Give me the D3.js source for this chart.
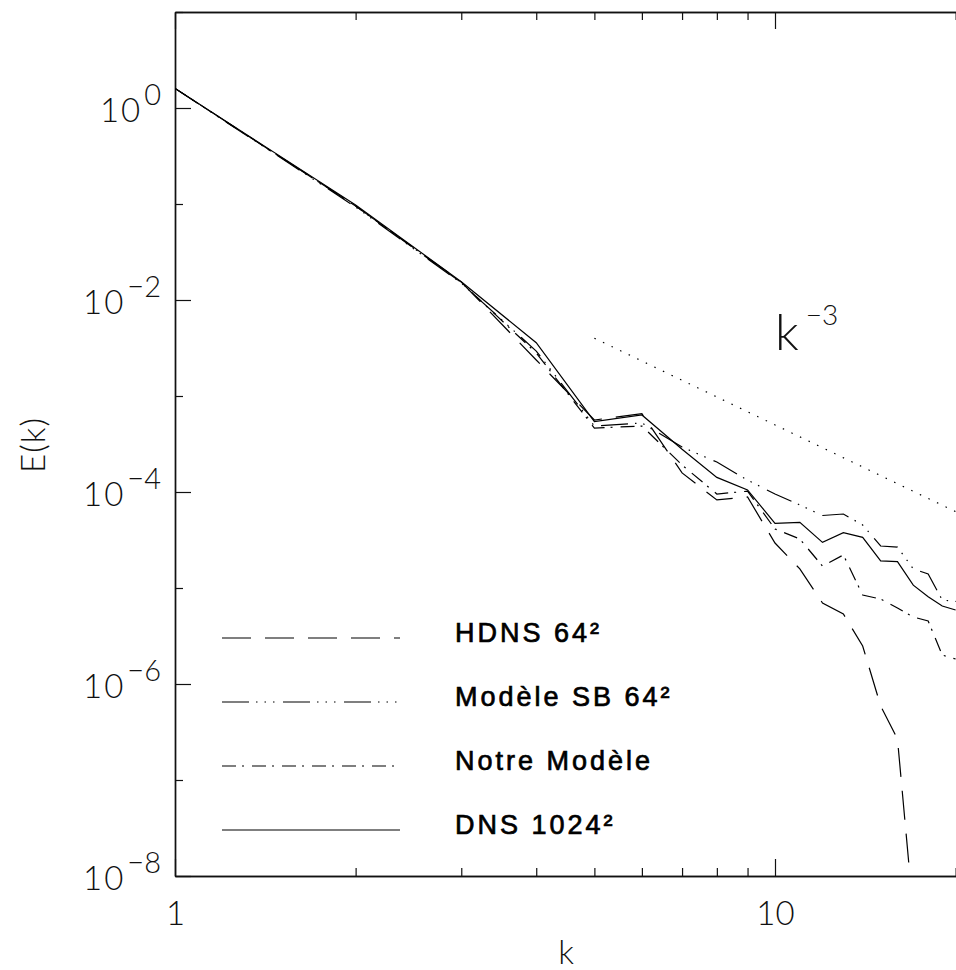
<!DOCTYPE html>
<html>
<head>
<meta charset="utf-8">
<script src="https://cdn.jsdelivr.net/npm/d3@7"></script>
<style>
  html, body { margin: 0; padding: 0; background: #fff; }
  svg { display: block; }
</style>
</head>
<body>
<svg id="chart" width="956" height="970"></svg>
<script>
// Energy spectra E(k) for the 2D runs, shell-averaged at integer wavenumbers
const wavenumbers = [1, 2, 3, 4, 5, 6, 7, 8, 9, 10, 11, 12, 13, 14, 15, 16, 17, 18, 19, 20];

const energyDNS = [1.60, 9.77e-2, 1.55e-2, 3.59e-3, 5.40e-4, 6.34e-4, 2.79e-4, 1.42e-4, 1.05e-4, 4.72e-5,
                   4.83e-5, 2.99e-5, 3.77e-5, 3.37e-5, 1.92e-5, 1.88e-5, 1.07e-5, 8.11e-6, 6.49e-6, 5.90e-6];

const energyHDNS = [1.60, 9.53e-2, 1.54e-2, 2.37e-3, 5.62e-4, 6.56e-4, 1.58e-4, 8.26e-5, 8.87e-5, 2.94e-5,
                    1.58e-5, 6.98e-6, 5.36e-6, 2.49e-6, 5.91e-7, 2.67e-7, 4.2e-9];

const energySB = [1.60, 9.31e-2, 1.50e-2, 2.94e-3, 4.87e-4, 5.24e-4, 2.94e-4, 2.05e-4, 1.33e-4, 9.53e-5,
                  7.33e-5, 5.69e-5, 5.90e-5, 4.53e-5, 2.74e-5, 2.67e-5, 1.58e-5, 1.40e-5, 7.50e-6, 7.23e-6];

const energyNotre = [1.60, 9.53e-2, 1.52e-2, 2.81e-3, 4.64e-4, 4.87e-4, 1.91e-4, 9.53e-5, 1.02e-4, 4.12e-5,
                     3.24e-5, 1.69e-5, 2.21e-5, 8.45e-6, 7.67e-6, 6.19e-6, 4.99e-6, 4.53e-6, 2.00e-6, 1.82e-6];

// k^-3 reference slope (end points)
const refK = [5, 21.3];
const refE = [4.0e-3, 5.17e-5];

const seriesNames = ["HDNS 64\u00B2", "Mod\u00E8le SB 64\u00B2", "Notre Mod\u00E8le", "DNS 1024\u00B2"];

const xTicksMajor = [1, 10];
const xTicksMinor = [2, 3, 4, 5, 6, 7, 8, 9, 20];
const yTicksMajor = [1e0, 1e-2, 1e-4, 1e-6, 1e-8];
const yTicksMinor = [1e1, 1e-1, 1e-3, 1e-5, 1e-7];

const kMax = 21.3;

// ---- layout ----
const svg = d3.select("#chart");
const plotLeft = 175, plotTop = 12, plotBottom = 876;
const decadeX = 600;
const plotRight = plotLeft + decadeX * Math.log10(kMax);

const x = d3.scaleLog().domain([1, kMax]).range([plotLeft, plotRight]);
const y = d3.scaleLog().domain([1e-8, 1e1]).range([plotBottom, plotTop]);

svg.append("rect").attr("width", 956).attr("height", 970).attr("fill", "#fff");

svg.append("defs").append("clipPath").attr("id", "plotClip")
  .append("rect").attr("x", plotLeft).attr("y", plotTop)
  .attr("width", plotRight - plotLeft).attr("height", plotBottom - plotTop);

const tickFont = "Lato, 'Liberation Sans', Arial, sans-serif";
const axisColor = "#111";

function styleAxis(g) {
  g.selectAll("path.domain").attr("stroke", axisColor).attr("stroke-width", 1.4);
  g.selectAll(".tick line").attr("stroke", axisColor).attr("stroke-width", 1.2);
}

// bottom axis: major (labelled) and minor ticks, pointing inward
const gBottomMajor = svg.append("g").attr("transform", `translate(0,${plotBottom})`)
  .call(d3.axisBottom(x).tickValues(xTicksMajor).tickSizeInner(-17).tickSizeOuter(0)
        .tickPadding(26).tickFormat(d3.format("d")));
styleAxis(gBottomMajor);
gBottomMajor.selectAll(".tick text")
  .attr("font-family", tickFont).attr("font-weight", 300)
  .attr("font-size", 33).attr("fill", "#111");
const gBottomMinor = svg.append("g").attr("transform", `translate(0,${plotBottom})`)
  .call(d3.axisBottom(x).tickValues(xTicksMinor).tickSizeInner(-8).tickSizeOuter(0).tickFormat(""));
styleAxis(gBottomMinor);

// top axis
const gTopMajor = svg.append("g").attr("transform", `translate(0,${plotTop})`)
  .call(d3.axisTop(x).tickValues(xTicksMajor).tickSizeInner(-17).tickSizeOuter(0).tickFormat(""));
styleAxis(gTopMajor);
const gTopMinor = svg.append("g").attr("transform", `translate(0,${plotTop})`)
  .call(d3.axisTop(x).tickValues(xTicksMinor).tickSizeInner(-8).tickSizeOuter(0).tickFormat(""));
styleAxis(gTopMinor);

// left axis with 10^n labels
const gLeftMajor = svg.append("g").attr("transform", `translate(${plotLeft},0)`)
  .call(d3.axisLeft(y).tickValues(yTicksMajor).tickSizeInner(-16).tickSizeOuter(0).tickFormat(""));
styleAxis(gLeftMajor);
const gLeftMinor = svg.append("g").attr("transform", `translate(${plotLeft},0)`)
  .call(d3.axisLeft(y).tickValues(yTicksMinor).tickSizeInner(-8).tickSizeOuter(0).tickFormat(""));
styleAxis(gLeftMinor);

const yLabels = svg.append("g")
  .attr("font-family", tickFont).attr("font-weight", 300).attr("fill", "#111");
yTicksMajor.forEach(v => {
  const exp = Math.round(Math.log10(v));
  const t = yLabels.append("text")
    .attr("x", 161).attr("y", y(v) + 14)
    .attr("text-anchor", "end");
  t.append("tspan").attr("font-size", 33).attr("letter-spacing", 2).text("10");
  t.append("tspan").attr("font-size", 29).attr("dy", -17).attr("dx", 2)
    .text(exp === 0 ? "0" : "\u2212" + Math.abs(exp));
});

// right axis (mirrored ticks)
const gRightMajor = svg.append("g").attr("transform", `translate(${plotRight},0)`)
  .call(d3.axisRight(y).tickValues(yTicksMajor).tickSizeInner(-16).tickSizeOuter(0).tickFormat(""));
styleAxis(gRightMajor);
const gRightMinor = svg.append("g").attr("transform", `translate(${plotRight},0)`)
  .call(d3.axisRight(y).tickValues(yTicksMinor).tickSizeInner(-8).tickSizeOuter(0).tickFormat(""));
styleAxis(gRightMinor);

// axis titles
svg.append("text").attr("x", 566).attr("y", 964).attr("text-anchor", "middle")
  .attr("font-family", tickFont).attr("font-weight", 300).attr("font-size", 33)
  .attr("fill", "#111").text("k");
svg.append("text").attr("transform", "translate(45,445) rotate(-90)")
  .attr("text-anchor", "middle")
  .attr("font-family", tickFont).attr("font-weight", 300).attr("font-size", 33)
  .attr("letter-spacing", 1)
  .attr("fill", "#111").text("E(k)");

// ---- curves ----
const series = [
  { name: seriesNames[0], values: energyHDNS,  dash: "29,14" },
  { name: seriesNames[1], values: energySB,    dash: "27,7,1.5,7,1.5,7,1.5,8.5" },
  { name: seriesNames[2], values: energyNotre, dash: "14,6,2,8" },
  { name: seriesNames[3], values: energyDNS,   dash: null }
];

const line = d3.line().x(d => x(d.k)).y(d => y(d.e));
const plot = svg.append("g").attr("clip-path", "url(#plotClip)");

series.forEach(s => {
  const pts = s.values.map((e, i) => ({ k: wavenumbers[i], e }));
  plot.append("path").datum(pts)
    .attr("d", line)
    .attr("fill", "none").attr("stroke", "#000").attr("stroke-width", 1.2)
    .attr("stroke-dasharray", s.dash);
});

// k^-3 reference
plot.append("path")
  .datum(refK.map((kk, i) => ({ k: kk, e: refE[i] })))
  .attr("d", line)
  .attr("fill", "none").attr("stroke", "#000").attr("stroke-width", 1.2)
  .attr("stroke-dasharray", "1.5,8");

const refLabel = svg.append("text").attr("x", 775).attr("y", 350)
  .attr("font-family", tickFont).attr("font-weight", 300).attr("fill", "#111");
refLabel.append("tspan").attr("font-size", 50).text("k");
refLabel.append("tspan").attr("font-size", 28).attr("dy", -25).attr("dx", 7).text("\u22123");

// ---- legend ----
const legendRows = [638, 702, 766, 830];
const legend = svg.append("g");
series.forEach((s, i) => {
  legend.append("line")
    .attr("x1", 222).attr("x2", 400)
    .attr("y1", legendRows[i]).attr("y2", legendRows[i])
    .attr("stroke", "#000").attr("stroke-width", 1.2)
    .attr("stroke-dasharray", s.dash);
  legend.append("text")
    .attr("x", 455).attr("y", legendRows[i] + 4)
    .attr("font-family", "'Liberation Sans', Arial, sans-serif")
    .attr("font-size", 27)
    .attr("letter-spacing", 3)
    .attr("stroke", "#000").attr("stroke-width", 0.7)
    .attr("fill", "#000").text(s.name);
});
</script>
</body>
</html>
